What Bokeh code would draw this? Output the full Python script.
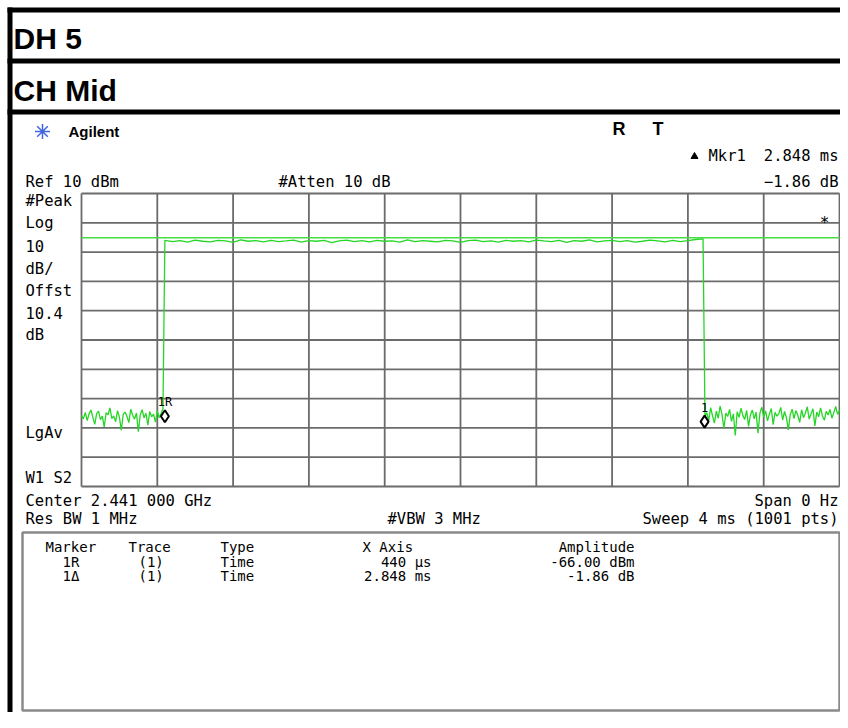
import numpy as np
from bokeh.plotting import figure
from bokeh.models import Range1d
from bokeh.core.properties import value
from bokeh.embed import file_html
from bokeh.resources import INLINE

# ---------------- data ----------------
# sweep: 0 .. 4 ms, reference level 10 dBm, 10 dB/div
T0, T1 = 0.0, 4.0
DB_TOP, DB_BOT = 10.0, -90.0
x_ticks_ms = [0.0, 0.4, 0.8, 1.2, 1.6, 2.0, 2.4, 2.8, 3.2, 3.6, 4.0]
y_ticks_db = [10, 0, -10, -20, -30, -40, -50, -60, -70, -80, -90]

# trace before the burst (0.00 .. 0.43 ms, 0.01 ms apart)
pre_start, pre_step = 0.00, 0.01
pre_db = [-65.8, -66.9, -64.7, -67.5, -65.2, -63.9, -66.4, -68.8, -65.1, -64.3,
          -67.2, -66.0, -69.7, -64.8, -65.5, -63.2, -66.8, -65.9, -67.9, -64.1,
          -66.3, -70.8, -65.4, -64.6, -66.1, -68.2, -63.6, -65.7, -67.0, -64.9,
          -71.3, -65.6, -63.8, -66.6, -65.0, -69.1, -64.4, -66.2, -65.3, -68.0,
          -64.2, -66.5, -65.1, -63.5]
# burst (0.44 .. 3.28 ms, 0.04 ms apart)
burst_start, burst_step = 0.44, 0.04
burst_db = [-6.0, -6.4, -6.1, -6.6, -5.9, -6.3, -6.5, -6.0, -6.2, -6.7,
            -5.8, -6.3, -6.1, -6.5, -6.0, -6.4, -6.2, -5.9, -6.6, -6.1,
            -6.3, -6.0, -6.8, -6.2, -5.9, -6.4, -6.1, -6.5, -6.0, -6.3,
            -6.2, -6.6, -5.8, -6.4, -6.1, -6.3, -6.5, -6.0, -6.2, -6.7,
            -6.1, -5.9, -6.4, -6.2, -6.6, -6.0, -6.3, -6.1, -6.5, -5.9,
            -6.2, -6.4, -6.0, -6.7, -6.1, -6.3, -5.8, -6.5, -6.2, -6.0,
            -6.4, -6.1, -6.6, -6.3, -5.9, -6.2, -6.5, -6.0, -6.4, -6.1,
            -5.7, -5.5]
# after the burst (3.29 .. 4.00 ms, 0.01 ms apart)
post_start, post_step = 3.29, 0.01
post_db = [-66.2, -64.8, -67.5, -63.1, -65.9, -68.4, -64.3, -66.7, -62.6, -65.4,
           -70.2, -64.9, -66.1, -63.7, -67.8, -65.2, -72.6, -64.5, -66.4, -63.3,
           -65.8, -67.1, -64.0, -69.5, -65.6, -63.9, -66.9, -64.6, -71.8, -65.0,
           -62.9, -66.3, -64.2, -67.6, -65.3, -63.4, -68.9, -64.7, -66.0, -65.1,
           -63.0, -67.3, -64.4, -66.6, -70.7, -65.5, -63.6, -66.8, -64.1, -65.7,
           -68.1, -63.8, -66.5, -64.9, -62.8, -67.0, -65.2, -63.5, -69.3, -64.6,
           -66.2, -63.2, -65.9, -67.4, -64.3, -65.6, -63.7, -66.7, -64.8, -62.7,
           -65.4, -64.0]
display_line_db = -5.1

marker_ms = [0.44, 3.288]
marker_db = [-66.0, -67.86]
marker_tags = ["1R", "1"]

left_labels = ["#Peak", "Log", "10", "dB/", "Offst", "10.4", "dB"]
table_header = ["Marker", "Trace", "Type", "X Axis", "Amplitude"]
table_rows = [["1R", "(1)", "Time", "440 \u00b5s", "-66.00 dBm"],
              ["1\u0394", "(1)", "Time", "2.848 ms", "-1.86 dB"]]

# ---------------- figure: whole canvas in pixel units ----------------
W, H = 840, 712

p = figure(width=W, height=H, x_range=Range1d(0, W), y_range=Range1d(H, 0),
           output_backend="svg", toolbar_location=None, min_border=0,
           x_axis_location=None, y_axis_location=None,
           outline_line_color=None, background_fill_color="white",
           border_fill_color="white")
p.grid.visible = False

# graticule placement (pixels)
gx0, gx1 = 81, 839
gy0, gy1 = 193, 486
ms_pp = (T1 - T0) / (gx1 - gx0)
db_pp = (DB_TOP - DB_BOT) / (gy1 - gy0)
p.extra_x_ranges = {"ms": Range1d(T0 - gx0 * ms_pp, T1 + (W - gx1) * ms_pp)}
p.extra_y_ranges = {"db": Range1d(DB_BOT - (H - gy1) * db_pp, DB_TOP + gy0 * db_pp)}

MONO = value("DejaVu Sans Mono")
SANS = value("Liberation Sans")


def txt(x, y, s, size="15.5px", font=MONO, align="left", style="normal",
        color="black"):
    p.text(x=[x], y=[y], text=[s], text_align=align,
           text_baseline="middle", text_font=font,
           text_font_size=value(size), text_font_style=style,
           text_color=color)


# black report frame
p.quad(left=[7, 7, 7, 7], right=[848, 12, 848, 848],
       top=[7, 7, 58, 109], bottom=[12, 728, 63, 114],
       fill_color="black", line_color=None)

txt(13, 38, "DH 5", size="30px", font=SANS, style="bold")
txt(13, 90, "CH Mid", size="30px", font=SANS, style="bold")

# instrument header
p.scatter(x=[42], y=[131], marker="asterisk", size=15,
          line_color="#3f66e0", line_width=1.5)
txt(68, 131, "Agilent", size="15px", font=SANS, style="bold")
txt(612, 128, "R", size="18px", font=SANS, style="bold")
txt(652, 128, "T", size="18px", font=SANS, style="bold")
p.scatter(x=[694], y=[156], marker="triangle", size=7,
          fill_color="black", line_color="black")
txt(708, 155, "Mkr1")
txt(838, 155, "2.848 ms", align="right")
txt(25, 181, "Ref 10 dBm")
txt(278, 181, "#Atten 10 dB")
txt(838, 181, "\u22121.86 dB", align="right")

for lab, yy in zip(left_labels, [200, 222, 245, 268, 290, 312, 334]):
    txt(25, yy, lab)
txt(25, 432, "LgAv")
txt(25, 477, "W1  S2")

# graticule lines
GRID_C = "#6b6b6b"
p.segment(x0=x_ticks_ms, y0=[DB_BOT] * len(x_ticks_ms),
          x1=x_ticks_ms, y1=[DB_TOP] * len(x_ticks_ms),
          x_range_name="ms", y_range_name="db", line_color=GRID_C, line_width=1.8)
p.segment(x0=[T0] * len(y_ticks_db), y0=y_ticks_db,
          x1=[T1] * len(y_ticks_db), y1=y_ticks_db,
          x_range_name="ms", y_range_name="db", line_color=GRID_C, line_width=1.8)

# display line and trace
p.line(x=[T0, T1], y=[display_line_db, display_line_db], x_range_name="ms",
       y_range_name="db", line_color="#45de45", line_width=1.3)
t_all = np.concatenate([pre_start + pre_step * np.arange(len(pre_db)),
                        burst_start + burst_step * np.arange(len(burst_db)),
                        post_start + post_step * np.arange(len(post_db))])
db_all = pre_db + burst_db + post_db
p.line(x=t_all, y=db_all, x_range_name="ms", y_range_name="db",
       line_color="#26d626", line_width=1.3)

# markers
p.scatter(x=marker_ms, y=marker_db, marker="diamond", size=12, line_color="black",
          line_width=2, fill_color=None, x_range_name="ms", y_range_name="db")
p.text(x=marker_ms, y=marker_db, text=marker_tags, y_offset=-14,
       text_align="center", text_baseline="middle", text_font=MONO,
       text_font_size=value("12px"), x_range_name="ms", y_range_name="db")
txt(824, 222, "*", size="16px", align="center")

# footer
txt(25, 500, "Center 2.441 000 GHz")
txt(838, 500, "Span 0 Hz", align="right")
txt(25, 518, "Res BW 1 MHz")
txt(387, 518, "#VBW 3 MHz")
txt(838, 518, "Sweep 4 ms (1001 pts)", align="right")

# marker table
p.quad(left=[22], right=[839], top=[532], bottom=[710],
       fill_color="white", line_color="#8a8a8a", line_width=2.5)
col_x = [45, 128, 220, 362, 634]
col_align = ["left", "left", "left", "left", "right"]
for s, x, a in zip(table_header, col_x, col_align):
    txt(x, 546, s, size="14px", align=a)
row_x = [62, 138, 220, 431, 634]
row_align = ["left", "left", "left", "right", "right"]
for row, yy in zip(table_rows, [561, 575]):
    for s, x, a in zip(row, row_x, row_align):
        txt(x, yy, s, size="14px", align=a)

open("out.html", "w").write(file_html(p, INLINE))
